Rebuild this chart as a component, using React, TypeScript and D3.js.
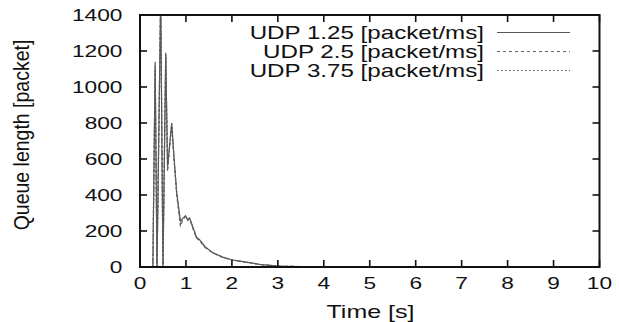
import React from "react";
import * as d3 from "d3";

const times = [0, 0.28, 0.33, 0.37, 0.45, 0.50, 0.56, 0.60, 0.65, 0.69, 0.74, 0.80, 0.88, 0.93, 0.99, 1.04, 1.08, 1.15, 1.23, 1.30, 1.41, 1.58, 1.80, 2.02, 2.32, 2.60, 3.0, 3.5, 4.0, 10];
const udp125 = [0, 0, 1140, 0, 1500, 0, 1190, 560, 690, 800, 610, 410, 255, 270, 285, 262, 272, 222, 165, 150, 114, 80, 55, 39, 27, 15, 5, 2, 0, 0];
const udp25 = [0, 0, 1100, 0, 1520, 0, 1170, 530, 680, 790, 600, 400, 225, 262, 280, 258, 268, 215, 160, 146, 110, 78, 53, 38, 26, 14, 5, 2, 0, 0];
const udp375 = [0, 0, 1120, 0, 1480, 0, 1180, 545, 685, 795, 605, 405, 240, 265, 282, 260, 270, 218, 162, 148, 112, 79, 54, 38, 26, 14, 5, 2, 0, 0];

const xTicks = [0, 1, 2, 3, 4, 5, 6, 7, 8, 9, 10];
const yTicks = [0, 200, 400, 600, 800, 1000, 1200, 1400];
const seriesNames = ["UDP 1.25 [packet/ms]", "UDP 2.5 [packet/ms]", "UDP 3.75 [packet/ms]"];
const seriesValues = [udp125, udp25, udp375];

const dashes = ["none", "3,3", "1.5,2.5"];
const colors = ["#555", "#666", "#555"];

const W = 619, H = 322;
const L = 140, R = 599.5, T = 15, B = 267;
const FONT = "'Liberation Sans', Arial, Helvetica, sans-serif";

export default function App() {
  const x = d3.scaleLinear().domain([0, 10]).range([L, R]);
  const y = d3.scaleLinear().domain([0, 1400]).range([B, T]);
  const line = d3.line<number>().x((_, i) => x(times[i])).y((d) => y(d));
  const tick = 7;

  const stretched = (tx: number, ty: number, s: string, anchor: string, size: number, sx: number) => (
    <text transform={`translate(${tx},${ty}) scale(${sx},1)`} textAnchor={anchor} fontSize={size} fontFamily={FONT} fill="#111">
      {s}
    </text>
  );

  return (
    <svg width={W} height={H} style={{ position: "absolute", left: 0, top: 0, background: "#fff" }}>
      <defs>
        <clipPath id="plot">
          <rect x={L} y={T} width={R - L} height={B - T} />
        </clipPath>
      </defs>
      <g clipPath="url(#plot)">
        {seriesValues.map((vals, i) => (
          <path key={i} d={line(vals) || ""} fill="none" stroke={colors[i]} strokeWidth={1.2} strokeDasharray={dashes[i]} />
        ))}
      </g>
      {xTicks.map((t) => (
        <g key={"x" + t}>
          <line x1={x(t)} x2={x(t)} y1={B} y2={B - tick} stroke="#111" strokeWidth={1.6} />
          <line x1={x(t)} x2={x(t)} y1={T} y2={T + tick} stroke="#111" strokeWidth={1.6} />
          {stretched(x(t), 289, String(t), "middle", 16, 1.42)}
        </g>
      ))}
      {yTicks.map((v) => (
        <g key={"y" + v}>
          <line x1={L} x2={L + tick} y1={y(v)} y2={y(v)} stroke="#111" strokeWidth={1.6} />
          <line x1={R} x2={R - tick} y1={y(v)} y2={y(v)} stroke="#111" strokeWidth={1.6} />
          {stretched(122.5, y(v) + 5.7, String(v), "end", 16, 1.42)}
        </g>
      ))}
      <rect x={L} y={T} width={R - L} height={B - T} fill="none" stroke="#111" strokeWidth={2} />
      {seriesNames.map((n, i) => {
        const ly = 32.5 + i * 19;
        return (
          <g key={n}>
            {stretched(484, ly + 6.3, n, "end", 17.5, 1.38)}
            <line x1={497} x2={570} y1={ly} y2={ly} stroke={colors[i]} strokeWidth={1.2} strokeDasharray={dashes[i]} />
          </g>
        );
      })}
      {stretched(370.5, 318, "Time [s]", "middle", 17.5, 1.43)}
      <text transform={`translate(29,135) scale(1.15,1) rotate(-90)`} textAnchor="middle" fontSize={19.5} fontFamily={FONT} fill="#111">
        Queue length [packet]
      </text>
    </svg>
  );
}
